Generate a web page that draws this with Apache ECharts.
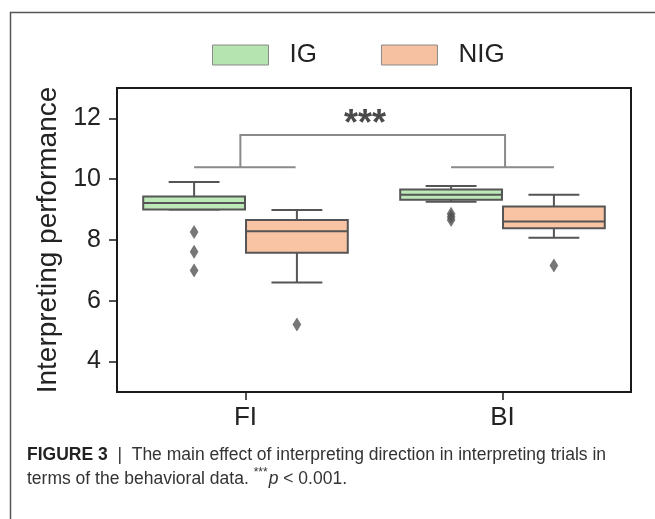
<!DOCTYPE html>
<html>
<head>
<meta charset="utf-8">
<script src="https://cdn.jsdelivr.net/npm/echarts@6/dist/echarts.min.js"></script>
<style>
  html, body { margin: 0; padding: 0; background: #fff; }
  #chart { width: 655px; height: 519px; }
</style>
</head>
<body>
<div id="chart"></div>
<script>
// ---------- data ----------
const categories = ['FI', 'BI'];
const groupNames = ['IG', 'NIG'];
// [whisker low, Q1, median, Q3, whisker high] per category
const igStats  = [[9.00, 9.00, 9.22, 9.43, 9.91], [9.26, 9.32, 9.49, 9.66, 9.78]];
const nigStats = [[6.60, 7.58, 8.29, 8.66, 8.99], [8.07, 8.39, 8.61, 9.10, 9.49]];
// [category index, value]
const igOutliers  = [[0, 8.26], [0, 7.61], [0, 7.00], [1, 8.86], [1, 8.76], [1, 8.66]];
const nigOutliers = [[0, 5.22], [1, 7.16]];
const yTicks = [4, 6, 8, 10, 12];
const bracketLevels = [11.45, 10.39]; // [top bar, lower bars]
const bracketEnds = [-0.02, 1.01];
const sigLabel = '***';
const yTitle = 'Interpreting performance';

// ---------- style ----------
const FONT = "'Liberation Sans', Arial, sans-serif";
const igFill = '#bde8b8';
const nigFill = '#f8c4a3';
const edge = '#555555';
const groupOffset = { IG: -0.2, NIG: 0.2 };
const boxW = 0.396;

function boxRender(off, fill) {
  return function (params, api) {
    const x = api.value(0) + off;
    const pMin = api.coord([x, api.value(1)]);
    const pQ1 = api.coord([x, api.value(2)]);
    const pMed = api.coord([x, api.value(3)]);
    const pQ3 = api.coord([x, api.value(4)]);
    const pMax = api.coord([x, api.value(5)]);
    const w = api.size([boxW, 0])[0];
    const cx = pMin[0];
    const ls = { stroke: edge, lineWidth: 2 };
    return {
      type: 'group',
      children: [
        { type: 'line', shape: { x1: cx, y1: pQ3[1], x2: cx, y2: pMax[1] }, style: ls },
        { type: 'line', shape: { x1: cx - w / 4, y1: pMax[1], x2: cx + w / 4, y2: pMax[1] }, style: ls },
        { type: 'line', shape: { x1: cx, y1: pQ1[1], x2: cx, y2: pMin[1] }, style: ls },
        { type: 'line', shape: { x1: cx - w / 4, y1: pMin[1], x2: cx + w / 4, y2: pMin[1] }, style: ls },
        { type: 'rect', shape: { x: cx - w / 2, y: pQ3[1], width: w, height: pQ1[1] - pQ3[1] },
          style: { fill: fill, stroke: edge, lineWidth: 2 } },
        { type: 'line', shape: { x1: cx - w / 2, y1: pMed[1], x2: cx + w / 2, y2: pMed[1] }, style: ls }
      ]
    };
  };
}

function bracketRender(params, api) {
  const top = api.value(0), low = api.value(1);
  const a = api.coord([bracketEnds[0], top]);
  const b = api.coord([bracketEnds[1], top]);
  const a2 = api.coord([bracketEnds[0], low]);
  const b2 = api.coord([bracketEnds[1], low]);
  const l1 = api.coord([0 - 0.2, low]), r1 = api.coord([0 + 0.195, low]);
  const l2 = api.coord([1 - 0.2, low]), r2 = api.coord([1 + 0.2, low]);
  const ls = { stroke: '#8a8a8a', lineWidth: 2 };
  const mid = api.coord([0.465, top]);
  return {
    type: 'group',
    children: [
      { type: 'polyline', shape: { points: [a2, a, b, b2] }, style: Object.assign({ fill: null }, ls) },
      { type: 'line', shape: { x1: l1[0], y1: l1[1], x2: r1[0], y2: r1[1] }, style: ls },
      { type: 'line', shape: { x1: l2[0], y1: l2[1], x2: r2[0], y2: r2[1] }, style: ls },
      { type: 'text', x: mid[0], y: mid[1] + 8,
        style: { text: sigLabel, fontSize: 36, fontWeight: 'bold', fontFamily: FONT,
                 fill: '#4a4a4a', align: 'center', verticalAlign: 'bottom' } }
    ]
  };
}

const chart = echarts.init(document.getElementById('chart'), null, { renderer: 'canvas' });
chart.setOption({
  backgroundColor: '#ffffff',
  animation: false,
  textStyle: { fontFamily: FONT },
  grid: { left: 117, right: 24, top: 88, bottom: 127, show: true,
          borderColor: '#1a1a1a', borderWidth: 2, backgroundColor: 'transparent' },
  legend: {
    left: 207, top: 37,
    itemWidth: 56, itemHeight: 20, itemGap: 64,
    icon: 'rect',
    textStyle: { fontSize: 26, color: '#222', fontFamily: FONT, padding: [0, 0, 0, 16] },
    data: [
      { name: groupNames[0], itemStyle: { color: '#b6e4b1', borderColor: '#8a8a8a', borderWidth: 1 } },
      { name: groupNames[1], itemStyle: { color: '#f6c1a1', borderColor: '#8a8a8a', borderWidth: 1 } }
    ]
  },
  xAxis: [
    { type: 'category', data: categories, gridIndex: 0, position: 'bottom',
      axisLine: { show: true, onZero: false, lineStyle: { color: '#1a1a1a', width: 2 } },
      axisTick: { show: true, alignWithLabel: true, length: 8, lineStyle: { color: '#1a1a1a', width: 1.5 } },
      axisLabel: { fontSize: 26, color: '#222', margin: 13, fontFamily: FONT },
      splitLine: { show: false } },
    { type: 'value', min: -0.5, max: 1.5, gridIndex: 0, show: false }
  ],
  yAxis: {
    type: 'value', min: 3, max: 13,
    name: yTitle, nameLocation: 'middle', nameGap: 52,
    nameTextStyle: { fontSize: 28, color: '#222', fontFamily: FONT },
    axisLine: { show: true, onZero: false, lineStyle: { color: '#1a1a1a', width: 2 } },
    axisTick: { show: true, length: 8, customValues: yTicks, lineStyle: { color: '#1a1a1a', width: 1.5 } },
    axisLabel: { fontSize: 25, color: '#222', margin: 16, customValues: yTicks, fontFamily: FONT },
    splitLine: { show: false }
  },
  graphic: [
    { type: 'rect', left: 8, top: 10, shape: { width: 700, height: 560 },
      style: { fill: null, stroke: '#555', lineWidth: 1.5 }, silent: true },
    { type: 'text', left: 27, top: 443,
      style: {
        text: '{b|FIGURE 3}  |  The main effect of interpreting direction in interpreting trials in\nterms of the behavioral data. {s|***}{i|p} < 0.001.',
        fontSize: 17.5, fontFamily: FONT, fill: '#333', lineHeight: 24,
        rich: {
          b: { fontWeight: 'bold', fontSize: 17.5, fontFamily: FONT, fill: '#222' },
          s: { fontSize: 12, fontFamily: FONT, fill: '#333', verticalAlign: 'top', padding: [0, 1, 6, 0] },
          i: { fontStyle: 'italic', fontSize: 17.5, fontFamily: FONT, fill: '#333' }
        }
      } }
  ],
  series: [
    { name: groupNames[0], type: 'custom', xAxisIndex: 1, yAxisIndex: 0,
      itemStyle: { color: igFill },
      renderItem: boxRender(groupOffset.IG, igFill),
      encode: { x: 0, y: [1, 2, 3, 4, 5] },
      data: igStats.map((s, i) => [i].concat(s)) },
    { name: groupNames[1], type: 'custom', xAxisIndex: 1, yAxisIndex: 0,
      itemStyle: { color: nigFill },
      renderItem: boxRender(groupOffset.NIG, nigFill),
      encode: { x: 0, y: [1, 2, 3, 4, 5] },
      data: nigStats.map((s, i) => [i].concat(s)) },
    { name: 'IG outliers', type: 'scatter', xAxisIndex: 1, yAxisIndex: 0,
      symbol: 'diamond', symbolSize: [8, 13],
      itemStyle: { color: '#555', borderColor: '#444', borderWidth: 0.5 },
      data: igOutliers.map(d => [d[0] + groupOffset.IG, d[1]]) },
    { name: 'NIG outliers', type: 'scatter', xAxisIndex: 1, yAxisIndex: 0,
      symbol: 'diamond', symbolSize: [8, 13],
      itemStyle: { color: '#555', borderColor: '#444', borderWidth: 0.5 },
      data: nigOutliers.map(d => [d[0] + groupOffset.NIG, d[1]]) },
    { name: 'bracket', type: 'custom', xAxisIndex: 1, yAxisIndex: 0, silent: true,
      renderItem: bracketRender,
      encode: { x: [], y: [0, 1] },
      data: [bracketLevels] }
  ]
});
</script>
</body>
</html>
